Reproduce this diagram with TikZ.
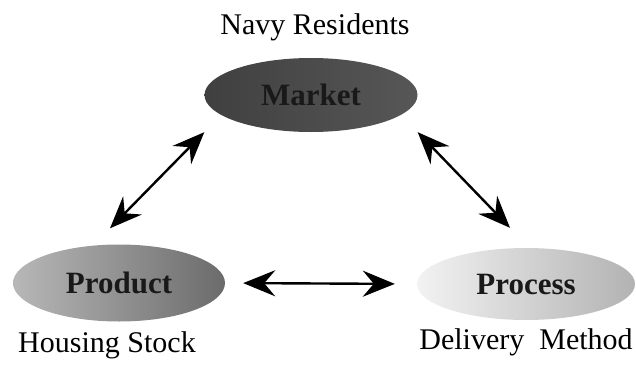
\documentclass[tikz,border=0pt]{standalone}
\usepackage{fontspec}
\setmainfont{Liberation Serif}
\usetikzlibrary{arrows.meta,shapes.geometric,positioning}

\tikzset{
  blob/.style={ellipse,draw=none,font=\fontsize{31}{34}\selectfont\bfseries,text=black!90},
  caption/.style={font=\fontsize{30}{34}\selectfont,text=black},
  twoway/.style={line width=2.4pt,{Stealth[length=32pt,width=26pt,inset=11pt]}-{Stealth[length=32pt,width=26pt,inset=11pt]}}
}

\begin{document}
\begin{tikzpicture}[x=1pt,y=-1pt]
\useasboundingbox (0,0) rectangle (636,364);

% Nodes
\node[blob,minimum width=213pt,minimum height=74pt,left color=black!75,right color=black!66] (market) at (311,95) {Market};
\node[blob,minimum width=212pt,minimum height=77pt,left color=black!28,right color=black!58] (product) at (119,283) {Product};
\node[blob,minimum width=218pt,minimum height=72pt,left color=black!5,right color=black!30] (process) at (526,284) {Process};

\node[caption] (navy) at (315,27) {Navy Residents};
\node[caption] (stock) at (107,345) {Housing Stock};
\node[caption] (method) at (526,342) {Delivery\ \ Method};

%arcs
\path (market.west |- market.south) edge[twoway] ([shift={(-9pt,16pt)}]product.north);
\path (market.east |- market.south) edge[twoway] ([shift={(-16pt,20pt)}]process.north);
\path (product.east) edge[twoway,shorten <=18pt,shorten >=22pt] (process.west);

\end{tikzpicture}
\end{document}
